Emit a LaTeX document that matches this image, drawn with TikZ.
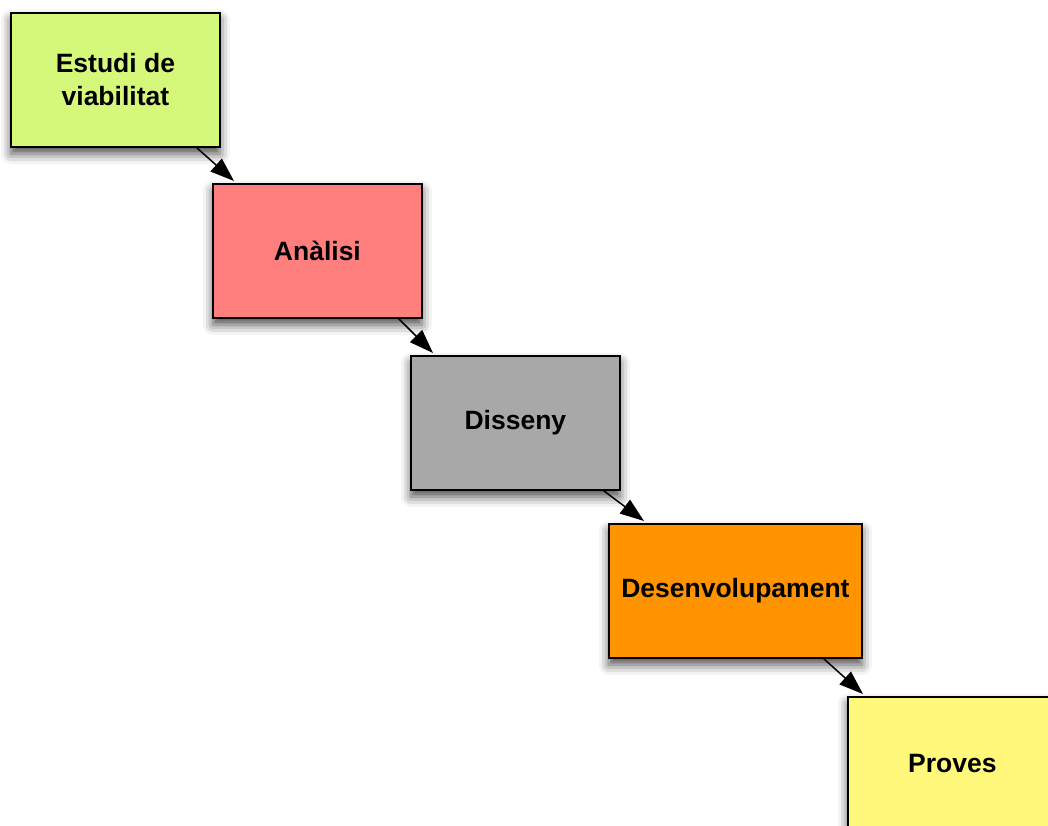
\documentclass[tikz,border=0pt]{standalone}
\usepackage{fontspec}
\setmainfont{Liberation Sans}
\usetikzlibrary{shadows.blur,arrows.meta,calc}
\definecolor{viabfill}{RGB}{213,248,122}
\definecolor{analfill}{RGB}{255,126,126}
\definecolor{disfill}{RGB}{168,168,168}
\definecolor{devfill}{RGB}{255,148,0}
\definecolor{provfill}{RGB}{255,248,122}
\begin{document}
\begin{tikzpicture}[x=1pt,y=-1pt,
  stage/.style={draw=black, line width=1.8pt, anchor=north west,
    minimum width=209pt, minimum height=134pt, inner sep=0pt, align=center,
    font=\bfseries\fontsize{26.5}{33}\selectfont,
    blur shadow={shadow xshift=0pt, shadow yshift=-7pt, shadow blur radius=10pt, shadow opacity=70}},
  flow/.style={line width=1.5pt, -{Triangle[length=24pt,width=17pt]}}]
  \useasboundingbox (0,0) rectangle (1048,826);
  \clip (0,0) rectangle (1048,826);
  % the five stages of the cascade
  \node[stage, fill=viabfill] (s1) at (10,12) {Estudi de\\viabilitat};
  \node[stage, fill=analfill] (s2) at (212,183) {Anàlisi};
  \node[stage, fill=disfill] (s3) at (410,355) {Disseny};
  \node[stage, fill=devfill, minimum width=253pt] (s4) at (608,523) {Desenvolupament};
  \node[stage, fill=provfill] (s5) at (847,696) {Proves};
  % links between consecutive stages
  \draw[flow] ($(s1.south east)+(-24,0)$) -- ($(s2.north west)+(22,-2)$);
  \draw[flow] ($(s2.south east)+(-24,0)$) -- ($(s3.north west)+(23,-2)$);
  \draw[flow] ($(s3.south east)+(-17,0)$) -- ($(s4.north west)+(36,-2)$);
  \draw[flow] ($(s4.south east)+(-39,0)$) -- ($(s5.north west)+(16,-2)$);
\end{tikzpicture}
\end{document}
